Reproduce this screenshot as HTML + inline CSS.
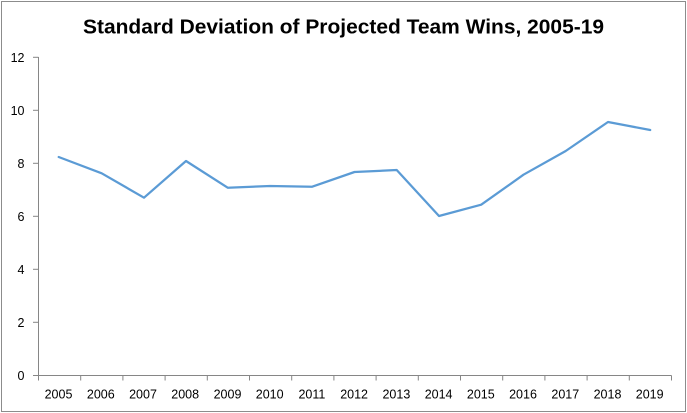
<!DOCTYPE html>
<html>
<head>
<meta charset="utf-8">
<style>
  html, body { margin: 0; padding: 0; background: #ffffff; }
  svg { display: block; }
  text { font-family: "Liberation Sans", Arial, sans-serif; fill: #000; }
</style>
</head>
<body>
<svg width="687" height="413" viewBox="0 0 687 413" xmlns="http://www.w3.org/2000/svg">
  <rect x="0" y="0" width="687" height="413" fill="#ffffff"/>
  <rect x="1.5" y="1.5" width="684" height="410" fill="none" stroke="#8c8c8c" stroke-width="1"/>

  <text x="343.5" y="33.5" font-size="20" font-weight="bold" text-anchor="middle" textLength="521" lengthAdjust="spacingAndGlyphs">Standard Deviation of Projected Team Wins, 2005-19</text>

  <!-- axes -->
  <g stroke="#868686" stroke-width="1" fill="none">
    <line x1="38.5" y1="57" x2="38.5" y2="375.5"/>
    <line x1="38.5" y1="375.5" x2="671.5" y2="375.5"/>
    <!-- y ticks -->
    <line x1="33" y1="57.3" x2="38.5" y2="57.3"/>
    <line x1="33" y1="110.3" x2="38.5" y2="110.3"/>
    <line x1="33" y1="163.3" x2="38.5" y2="163.3"/>
    <line x1="33" y1="216.3" x2="38.5" y2="216.3"/>
    <line x1="33" y1="269.3" x2="38.5" y2="269.3"/>
    <line x1="33" y1="322.3" x2="38.5" y2="322.3"/>
    <line x1="33" y1="375.5" x2="38.5" y2="375.5"/>
    <!-- x ticks -->
    <line x1="38.5" y1="375.5" x2="38.5" y2="380.5"/>
    <line x1="80.7" y1="375.5" x2="80.7" y2="380.5"/>
    <line x1="122.9" y1="375.5" x2="122.9" y2="380.5"/>
    <line x1="165.1" y1="375.5" x2="165.1" y2="380.5"/>
    <line x1="207.3" y1="375.5" x2="207.3" y2="380.5"/>
    <line x1="249.5" y1="375.5" x2="249.5" y2="380.5"/>
    <line x1="291.7" y1="375.5" x2="291.7" y2="380.5"/>
    <line x1="333.9" y1="375.5" x2="333.9" y2="380.5"/>
    <line x1="376.1" y1="375.5" x2="376.1" y2="380.5"/>
    <line x1="418.3" y1="375.5" x2="418.3" y2="380.5"/>
    <line x1="460.5" y1="375.5" x2="460.5" y2="380.5"/>
    <line x1="502.7" y1="375.5" x2="502.7" y2="380.5"/>
    <line x1="544.9" y1="375.5" x2="544.9" y2="380.5"/>
    <line x1="587.1" y1="375.5" x2="587.1" y2="380.5"/>
    <line x1="629.3" y1="375.5" x2="629.3" y2="380.5"/>
    <line x1="671.5" y1="375.5" x2="671.5" y2="380.5"/>
  </g>

  <!-- y labels -->
  <g font-size="12.5" text-anchor="end">
    <text x="24.5" y="61.8">12</text>
    <text x="24.5" y="114.8">10</text>
    <text x="24.5" y="167.8">8</text>
    <text x="24.5" y="220.8">6</text>
    <text x="24.5" y="273.8">4</text>
    <text x="24.5" y="326.8">2</text>
    <text x="24.5" y="380">0</text>
  </g>

  <!-- x labels -->
  <g font-size="12.5" text-anchor="middle">
    <text x="58.5" y="398.3">2005</text>
    <text x="100.8" y="398.3">2006</text>
    <text x="143" y="398.3">2007</text>
    <text x="185.2" y="398.3">2008</text>
    <text x="227.5" y="398.3">2009</text>
    <text x="269.7" y="398.3">2010</text>
    <text x="311.9" y="398.3">2011</text>
    <text x="354.1" y="398.3">2012</text>
    <text x="396.4" y="398.3">2013</text>
    <text x="438.6" y="398.3">2014</text>
    <text x="480.8" y="398.3">2015</text>
    <text x="523" y="398.3">2016</text>
    <text x="565.3" y="398.3">2017</text>
    <text x="607.5" y="398.3">2018</text>
    <text x="649.7" y="398.3">2019</text>
  </g>

  <!-- series -->
  <polyline fill="none" stroke="#5B9BD5" stroke-width="2.25" stroke-linejoin="round" stroke-linecap="round"
    points="58.7,157 101.7,173.3 144,197.7 186,161 227.7,187.7 270,186 312.2,186.7 354.5,172 396.7,170 439,216 481.2,204.7 523.5,174.7 565.7,151 608,122 650.2,130"/>
</svg>
</body>
</html>
